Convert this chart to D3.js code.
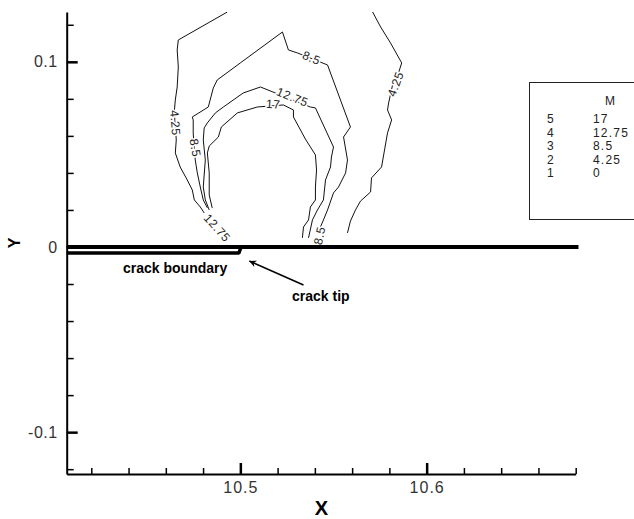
<!DOCTYPE html>
<html>
<head>
<meta charset="utf-8">
<script src="https://cdn.jsdelivr.net/npm/d3@7"></script>
<style>
  body { margin: 0; background: #fff; }
  svg { display: block; }
  text { font-family: "Liberation Sans", Arial, sans-serif; }
</style>
</head>
<body>
<div id="chart"></div>
<script>
// legend: contour level number and value of M
const levelNums = ["5", "4", "3", "2", "1"]
const levelVals = ["17", "12.75", "8.5", "4.25", "0"]

// contour traces, [x, y]
const c425Left = [[10.4930,0.1269],[10.4667,0.1118],[10.4661,0.1064],[10.4667,0.0972],[10.4661,0.0864],
  [10.4651,0.0794],[10.4645,0.0724],[10.4651,0.0659],[10.4656,0.0578],[10.4651,0.0508],[10.4677,0.0432],
  [10.4715,0.0362],[10.4742,0.0308],[10.4753,0.0254],[10.4785,0.0216],[10.4806,0.0184]]
const c425Right = [[10.5710,0.1269],[10.5753,0.1188],[10.5806,0.1102],[10.5866,0.0994],[10.5849,0.0940],
  [10.5817,0.0875],[10.5796,0.0778],[10.5790,0.0740],[10.5812,0.0686],[10.5790,0.0616],[10.5774,0.0524],
  [10.5758,0.0432],[10.5704,0.0373],[10.5699,0.0297],[10.5645,0.0248],[10.5618,0.0200],[10.5591,0.0140],
  [10.5575,0.0076]]
const c85 = [[10.4823,0.0211],[10.4801,0.0254],[10.4785,0.0324],[10.4769,0.0400],[10.4758,0.0470],
  [10.4753,0.0524],[10.4747,0.0616],[10.4747,0.0686],[10.4742,0.0702],[10.4828,0.0756],[10.4855,0.0859],
  [10.4876,0.0902],[10.5000,0.0994],[10.5226,0.1161],[10.5258,0.1064],[10.5306,0.1048],[10.5468,0.0983],
  [10.5591,0.0648],[10.5554,0.0594],[10.5575,0.0470],[10.5565,0.0400],[10.5527,0.0324],[10.5500,0.0292],
  [10.5468,0.0200],[10.5446,0.0146],[10.5430,0.0108]]
const c1275 = [[10.4833,0.0200],[10.4812,0.0254],[10.4801,0.0324],[10.4812,0.0470],[10.4801,0.0578],
  [10.4806,0.0643],[10.4823,0.0670],[10.4866,0.0724],[10.4909,0.0756],[10.5016,0.0832],[10.5108,0.0864],
  [10.5376,0.0756],[10.5403,0.0751],[10.5500,0.0540],[10.5489,0.0486],[10.5484,0.0432],[10.5457,0.0362],
  [10.5446,0.0254],[10.5414,0.0200],[10.5387,0.0146],[10.5366,0.0049]]
const c17 = [[10.4849,0.0211],[10.4833,0.0281],[10.4833,0.0400],[10.4823,0.0508],[10.4833,0.0545],
  [10.4882,0.0594],[10.4898,0.0648],[10.4984,0.0724],[10.5091,0.0756],[10.5231,0.0767],[10.5285,0.0740],
  [10.5285,0.0702],[10.5349,0.0583],[10.5403,0.0497],[10.5409,0.0416],[10.5403,0.0324],[10.5403,0.0254],
  [10.5376,0.0216],[10.5366,0.0146],[10.5339,0.0108],[10.5333,0.0049]]

// labels sitting on the contours: text, x, y, angle of the line
const lineLabels = [
  ["4.25", 10.4651, 0.0670, 85],
  ["8.5", 10.4758, 0.0535, 80],
  ["12.75", 10.4876, 0.0103, 48],
  ["12.75", 10.5280, 0.0810, 22],
  ["17", 10.5177, 0.0772, 4],
  ["8.5", 10.5382, 0.1021, 22],
  ["4.25", 10.5833, 0.0880, -70],
  ["8.5", 10.5425, 0.0062, -78]
]

// crack faces
const crackTop = [[10.4068, 0], [10.6815, 0]]
const crackLow = [[10.4068, -0.0033], [10.4992, -0.0033], [10.5004, 0]]
const tipArrow = [[10.5339, -0.0205], [10.5048, -0.0076]]

const xMajor = [10.5, 10.6]
const xMinor = [10.42, 10.44, 10.46, 10.48, 10.52, 10.54, 10.56, 10.58, 10.62, 10.64, 10.66, 10.68]
const yMajor = [-0.1, 0, 0.1]
const yMinor = [-0.12, -0.08, -0.06, -0.04, -0.02, 0.02, 0.04, 0.06, 0.08, 0.12]

const width = 634, height = 519

const svg = d3.select("#chart").append("svg")
  .attr("width", width)
  .attr("height", height)

const x = d3.scaleLinear().domain([10.4068, 10.68]).range([66.7, 575.7])
const y = d3.scaleLinear().domain([-0.1226, 0.1269]).range([474, 12])

svg.append("defs").append("clipPath").attr("id", "plot")
  .append("rect")
  .attr("x", x.range()[0]).attr("y", y.range()[1])
  .attr("width", 520).attr("height", y.range()[0] - y.range()[1])

svg.select("defs").append("marker")
  .attr("id", "head")
  .attr("viewBox", "0 0 10 10")
  .attr("refX", 10).attr("refY", 5)
  .attr("markerWidth", 11).attr("markerHeight", 7)
  .attr("markerUnits", "userSpaceOnUse")
  .attr("orient", "auto")
  .append("path").attr("d", "M0,0 L10,5 L0,10 L3,5 Z").attr("fill", "#000")

const line = d3.line().x(d => x(d[0])).y(d => y(d[1]))

// contours
const g = svg.append("g").attr("clip-path", "url(#plot)")
g.selectAll("path.contour")
  .data([c425Left, c425Right, c85, c1275, c17])
  .join("path")
  .attr("class", "contour")
  .attr("d", line)
  .attr("fill", "none")
  .attr("stroke", "#111")
  .attr("stroke-width", 1)

g.selectAll("text.lab")
  .data(lineLabels)
  .join("text")
  .attr("class", "lab")
  .attr("transform", d => `translate(${x(d[1])},${y(d[2])}) rotate(${d[3]})`)
  .attr("text-anchor", "middle")
  .attr("dy", "0.35em")
  .attr("font-size", 12)
  .attr("letter-spacing", 0.6)
  .attr("fill", "#222")
  .attr("stroke", "#fff")
  .attr("stroke-width", 3)
  .attr("paint-order", "stroke")
  .text(d => d[0])

// crack
svg.append("path").attr("d", line(crackTop))
  .attr("fill", "none").attr("stroke", "#000").attr("stroke-width", 4)
svg.append("path").attr("d", line(crackLow))
  .attr("fill", "none").attr("stroke", "#000").attr("stroke-width", 3.5)
  .attr("stroke-linejoin", "bevel")

// axes
const fmt = d => d === 0 ? "0" : (d < 0 ? "-" : "") + Math.abs(d)

const xMin = svg.append("g").attr("transform", `translate(0,${y.range()[0]})`)
  .call(d3.axisBottom(x).tickValues(xMinor).tickSize(-6).tickSizeOuter(0).tickFormat(""))
xMin.select(".domain").attr("stroke-width", 2)
xMin.selectAll(".tick line").attr("stroke-width", 1.5)

const xMaj = svg.append("g").attr("transform", `translate(0,${y.range()[0]})`)
  .call(d3.axisBottom(x).tickValues(xMajor).tickSize(-11).tickPadding(8).tickFormat(fmt))
xMaj.select(".domain").remove()
xMaj.selectAll(".tick line").attr("stroke-width", 2.5)
xMaj.selectAll(".tick text").attr("font-size", 16).attr("letter-spacing", 1)
  .attr("fill", "#333").attr("font-family", "Liberation Sans, Arial, sans-serif")

const yMin = svg.append("g").attr("transform", `translate(${x.range()[0]},0)`)
  .call(d3.axisLeft(y).tickValues(yMinor).tickSize(-7).tickSizeOuter(0).tickFormat(""))
yMin.select(".domain").attr("stroke-width", 2)
yMin.selectAll(".tick line").attr("stroke-width", 1.5)

const yMaj = svg.append("g").attr("transform", `translate(${x.range()[0]},0)`)
  .call(d3.axisLeft(y).tickValues(yMajor).tickSize(-11).tickPadding(9).tickFormat(fmt))
yMaj.select(".domain").remove()
yMaj.selectAll(".tick line").attr("stroke-width", 2.5)
yMaj.selectAll(".tick text").attr("font-size", 16).attr("letter-spacing", 0.5)
  .attr("fill", "#333").attr("font-family", "Liberation Sans, Arial, sans-serif")

// axis titles
svg.append("text").attr("x", 321.5).attr("y", 515)
  .attr("text-anchor", "middle").attr("font-size", 20).attr("font-weight", "bold")
  .text("X")
svg.append("text").attr("transform", "translate(20,243) rotate(-90)")
  .attr("text-anchor", "middle").attr("font-size", 16).attr("font-weight", "bold")
  .text("Y")

// annotations
svg.append("text").attr("x", 123).attr("y", 272.5)
  .attr("font-size", 14).attr("font-weight", "bold")
  .text("crack boundary")
svg.append("text").attr("x", 292).attr("y", 301)
  .attr("font-size", 14).attr("font-weight", "bold")
  .text("crack tip")
svg.append("path").attr("d", line(tipArrow))
  .attr("stroke", "#000").attr("stroke-width", 1.5).attr("marker-end", "url(#head)")

// legend
const lg = svg.append("g")
lg.append("rect").attr("x", 529.5).attr("y", 82.5).attr("width", 120).attr("height", 137)
  .attr("fill", "#fff").attr("stroke", "#222").attr("stroke-width", 1)
lg.append("text").attr("x", 605).attr("y", 105).attr("font-size", 12).attr("fill", "#222").text("M")
lg.selectAll("text.num").data(levelNums).join("text").attr("class", "num")
  .attr("x", 547).attr("y", (d, i) => 123 + i * 13.5)
  .attr("font-size", 12).attr("fill", "#222").text(d => d)
lg.selectAll("text.val").data(levelVals).join("text").attr("class", "val")
  .attr("x", 593).attr("y", (d, i) => 123 + i * 13.5)
  .attr("font-size", 12).attr("letter-spacing", 1.2).attr("fill", "#222").text(d => d)
</script>
</body>
</html>
